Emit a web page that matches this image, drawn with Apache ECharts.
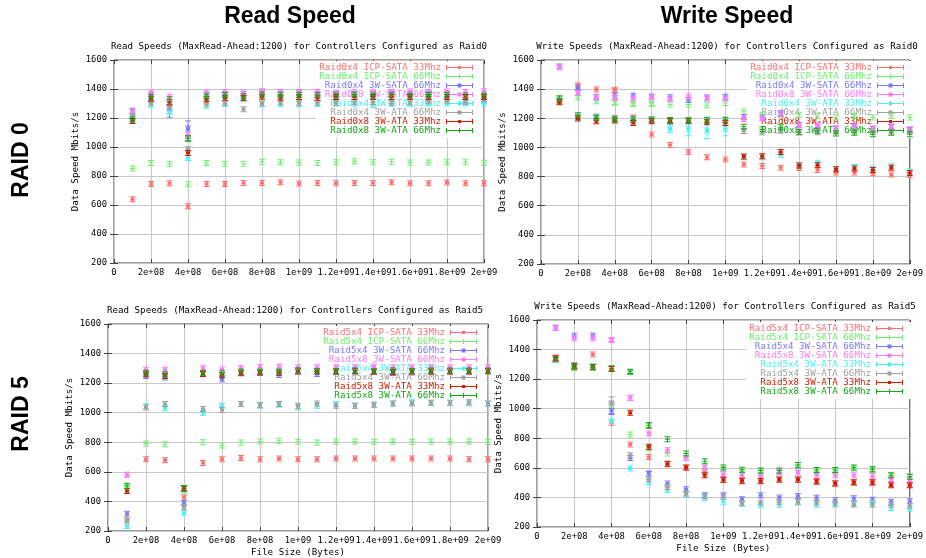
<!DOCTYPE html>
<html><head><meta charset="utf-8">
<script src="https://cdn.jsdelivr.net/npm/echarts@6/dist/echarts.min.js"></script>
<style>html,body{margin:0;padding:0;background:#fff}#c{width:926px;height:558px}</style>
</head><body><div id="c"></div><script>
// ---------- data ----------
const fileSizes = [1e8, 2e8, 3e8, 4e8, 5e8, 6e8, 7e8, 8e8, 9e8, 1e9, 1.1e9, 1.2e9, 1.3e9, 1.4e9, 1.5e9, 1.6e9, 1.7e9, 1.8e9, 1.9e9, 2e9];

const names0 = ['Raid0x4 ICP-SATA 33Mhz', 'Raid0x4 ICP-SATA 66Mhz', 'Raid0x4 3W-SATA 66Mhz', 'Raid0x8 3W-SATA 66Mhz',
                'Raid0x4 3W-ATA 33Mhz', 'Raid0x4 3W-ATA 66Mhz', 'Raid0x8 3W-ATA 33Mhz', 'Raid0x8 3W-ATA 66Mhz'];
const names5 = ['Raid5x4 ICP-SATA 33Mhz', 'Raid5x4 ICP-SATA 66Mhz', 'Raid5x4 3W-SATA 66Mhz', 'Raid5x8 3W-SATA 66Mhz',
                'Raid5x4 3W-ATA 33Mhz', 'Raid5x4 3W-ATA 66Mhz', 'Raid5x8 3W-ATA 33Mhz', 'Raid5x8 3W-ATA 66Mhz'];

const titles = [
  'Read Speeds (MaxRead-Ahead:1200) for Controllers Configured as Raid0',
  'Write Speeds (MaxRead-Ahead:1200) for Controllers Configured as Raid0',
  'Read Speeds (MaxRead-Ahead:1200) for Controllers Configured as Raid5',
  'Write Speeds (MaxRead-Ahead:1200) for Controllers Configured as Raid5'
];
const yAxisName = 'Data Speed Mbits/s';
const xAxisName = 'File Size (Bytes)';

// Read, RAID 0
const read0Icp33  = [640, 745, 750, 592, 745, 745, 752, 752, 757, 748, 752, 750, 752, 752, 757, 750, 750, 755, 750, 750];
const read0Icp66  = [852, 889, 884, 743, 889, 884, 884, 898, 895, 893, 889, 895, 902, 895, 898, 893, 893, 895, 895, 891];
const read0Sata4  = [1250, 1362, 1268, 1128, 1362, 1368, 1365, 1370, 1368, 1370, 1368, 1365, 1368, 1365, 1368, 1368, 1365, 1368, 1325, 1320];
const read0Sata8  = [1240, 1376, 1346, 1080, 1376, 1380, 1376, 1385, 1380, 1380, 1380, 1375, 1378, 1378, 1380, 1382, 1380, 1382, 1380, 1385];
const read0Ata33  = [1200, 1292, 1245, 925, 1285, 1297, 1330, 1295, 1295, 1295, 1295, 1300, 1298, 1290, 1298, 1298, 1300, 1300, 1300, 1300];
const read0Ata66  = [1215, 1305, 1272, 985, 1300, 1305, 1260, 1300, 1308, 1305, 1305, 1305, 1310, 1310, 1305, 1308, 1315, 1320, 1310, 1330];
const read0x8Ata33 = [1180, 1332, 1308, 958, 1330, 1340, 1338, 1346, 1340, 1345, 1340, 1345, 1345, 1345, 1345, 1345, 1345, 1345, 1345, 1345];
const read0x8Ata66 = [1190, 1346, 1330, 1060, 1350, 1358, 1350, 1362, 1360, 1358, 1358, 1355, 1360, 1355, 1358, 1355, 1358, 1358, 1355, 1355];

// Write, RAID 0
const write0Icp33  = [1315, 1425, 1397, 1395, 1205, 1089, 1016, 968, 933, 917, 883, 872, 861, 858, 845, 828, 828, 822, 815, 810];
const write0Icp66  = [1340, 1344, 1317, 1310, 1299, 1299, 1294, 1294, 1290, 1305, 1245, 1225, 1220, 1225, 1215, 1205, 1215, 1205, 1215, 1205];
const write0Sata4  = [1555, 1405, 1344, 1355, 1355, 1350, 1344, 1326, 1342, 1347, 1208, 1205, 1235, 1155, 1150, 1130, 1145, 1125, 1140, 1120];
const write0Sata8  = [1550, 1374, 1344, 1340, 1335, 1345, 1330, 1349, 1335, 1335, 1195, 1200, 1230, 1150, 1150, 1130, 1140, 1130, 1145, 1125];
const write0Ata33  = [1330, 1205, 1200, 1190, 1185, 1185, 1130, 1128, 1116, 1128, 935, 933, 950, 880, 895, 850, 865, 855, 870, 835];
const write0Ata66  = [1320, 1210, 1212, 1203, 1200, 1190, 1185, 1185, 1185, 1185, 1113, 1105, 1115, 1105, 1105, 1110, 1110, 1110, 1110, 1110];
const write0x8Ata33 = [1310, 1198, 1180, 1185, 1168, 1180, 1180, 1180, 1172, 1168, 938, 940, 968, 876, 878, 850, 855, 845, 860, 825];
const write0x8Ata66 = [1335, 1220, 1203, 1194, 1191, 1191, 1189, 1187, 1190, 1190, 1142, 1125, 1138, 1105, 1115, 1095, 1100, 1090, 1100, 1090];

// Read, RAID 5
const read5Icp33  = [266, 685, 678, 425, 660, 685, 694, 685, 690, 685, 685, 690, 690, 690, 690, 690, 690, 690, 685, 685];
const read5Icp66  = [500, 792, 786, 468, 801, 779, 799, 806, 810, 804, 799, 806, 806, 804, 806, 804, 806, 806, 806, 804];
const read5Sata4  = [316, 1249, 1238, 390, 1262, 1226, 1270, 1275, 1255, 1278, 1262, 1275, 1278, 1275, 1268, 1272, 1278, 1278, 1278, 1282];
const read5Sata8  = [580, 1290, 1290, 485, 1300, 1293, 1302, 1309, 1309, 1308, 1308, 1308, 1308, 1312, 1308, 1308, 1308, 1308, 1308, 1308];
const read5Ata33  = [233, 1043, 1030, 323, 998, 1047, 1059, 1047, 1054, 1036, 1047, 1059, 1047, 1054, 1063, 1070, 1068, 1068, 1063, 1063];
const read5Ata66  = [282, 1036, 1059, 361, 1025, 1018, 1059, 1052, 1059, 1047, 1063, 1047, 1047, 1054, 1063, 1063, 1068, 1068, 1070, 1063];
const read5x8Ata33 = [470, 1260, 1249, 486, 1262, 1253, 1267, 1271, 1271, 1278, 1278, 1278, 1280, 1278, 1275, 1278, 1278, 1278, 1278, 1280];
const read5x8Ata66 = [506, 1271, 1260, 490, 1271, 1267, 1278, 1278, 1278, 1287, 1280, 1282, 1285, 1280, 1285, 1282, 1285, 1285, 1285, 1285];

// Write, RAID 5
const write5Icp33  = [1340, 1285, 1367, 905, 758, 674, 625, 600, 577, 520, 510, 510, 520, 520, 505, 495, 500, 500, 490, 485];
const write5Icp66  = [1335, 1280, 1282, 1010, 826, 735, 697, 681, 600, 590, 575, 570, 570, 600, 575, 575, 595, 585, 545, 540];
const write5Sata4  = [1548, 1494, 1494, 985, 667, 561, 494, 455, 415, 415, 388, 415, 399, 410, 397, 381, 395, 385, 370, 374];
const write5Sata8  = [1548, 1476, 1476, 1465, 1075, 832, 719, 667, 600, 557, 550, 546, 570, 568, 555, 550, 550, 543, 523, 516];
const write5Ata33  = [1335, 1295, 1285, 918, 595, 505, 449, 419, 397, 370, 358, 347, 351, 365, 350, 350, 355, 360, 329, 324];
const write5Ata66  = [1335, 1285, 1284, 1035, 686, 523, 471, 426, 408, 404, 363, 365, 370, 370, 365, 360, 353, 350, 352, 343];
const write5x8Ata33 = [1345, 1291, 1282, 1268, 972, 742, 627, 602, 550, 519, 512, 512, 521, 521, 509, 494, 503, 503, 482, 482];
const write5x8Ata66 = [1334, 1279, 1279, 1273, 1250, 889, 794, 697, 645, 602, 588, 582, 582, 620, 586, 586, 602, 591, 550, 540];

// visible error bars: [series number, file size, low, high]
const read0Err  = [[2, 3e8, 1205, 1285], [2, 4e8, 1080, 1180], [7, 4e8, 1040, 1075], [4, 3e8, 1230, 1260]];
const write0Err = [[2, 2e8, 1395, 1435], [0, 4e8, 1380, 1405], [1, 4e8, 1290, 1325], [4, 7e8, 1100, 1160],
                   [4, 8e8, 1080, 1170], [4, 9e8, 1060, 1165], [4, 1e9, 1080, 1170], [1, 5e8, 1285, 1310], [1, 6e8, 1285, 1310]];
const read5Err  = [[3, 1e8, 565, 595]];
const write5Err = [[5, 4e8, 1030, 1080], [2, 4e8, 960, 1045], [3, 5e8, 1055, 1090], [7, 5e8, 1238, 1262],
                   [7, 6e8, 868, 905], [2, 6e8, 540, 575], [3, 4e8, 1455, 1475], [6, 6e8, 720, 750]];

// ---------- styling / layout ----------
const colors = ['#ff7070', '#6cf06c', '#7a7aff', '#ff7aff', '#4cf0f0', '#a0a0a0', '#cc1e00', '#14a814'];
const FONT = '"DejaVu Sans Mono", "Liberation Mono", monospace';
const pointSym = 'path://M0,0h6v1h-6zM0,5h6v1h-6zM2.5,0h1v6h-1zM1,1.5h4v3h-4z';
const plusSym  = 'path://M0,0h6v1h-6zM0,5h6v1h-6zM2.5,0h1v6h-1zM0.5,2.5h5v1h-5z';
const symbols = [pointSym, plusSym, pointSym, pointSym, pointSym, pointSym, pointSym, plusSym];
const legBase = 'path://M0,0h1v5h-1zM0,2h27v1h-27zM26,0h1v5h-1z';
const legIcons = [
  legBase + 'M12,1h3v3h-3z', legBase + 'M13,0h1v5h-1z', legBase + 'M11.5,0.5h4v4h-4z', legBase + 'M11.5,0.5h4v4h-4z',
  legBase + 'M12,0.5h3v4h-3z', legBase + 'M11.5,0.5h4v4h-4z', legBase + 'M12,1h3v3h-3z', legBase + 'M13,0h1v5h-1z'
];

const panels = [
  { title: titles[0], names: names0, err: read0Err,
    series: [read0Icp33, read0Icp66, read0Sata4, read0Sata8, read0Ata33, read0Ata66, read0x8Ata33, read0x8Ata66],
    grid: [114, 60, 442, 295], tx: 299, ty: 42, leg: [443, 61], xName: false },
  { title: titles[1], names: names0, err: write0Err,
    series: [write0Icp33, write0Icp66, write0Sata4, write0Sata8, write0Ata33, write0Ata66, write0x8Ata33, write0x8Ata66],
    grid: [541, 60, 11, 294], tx: 727, ty: 42, leg: [12, 61], xName: false },
  { title: titles[2], names: names5, err: read5Err,
    series: [read5Icp33, read5Icp66, read5Sata4, read5Sata8, read5Ata33, read5Ata66, read5x8Ata33, read5x8Ata66],
    grid: [108, 324, 438, 25], tx: 295, ty: 306, leg: [439, 326], xName: true },
  { title: titles[3], names: names5, err: write5Err,
    series: [write5Icp33, write5Icp66, write5Sata4, write5Sata8, write5Ata33, write5Ata66, write5x8Ata33, write5x8Ata66],
    grid: [537, 320, 12, 31], tx: 725, ty: 302, leg: [13, 322], xName: true }
];

function fmtX(v) {
  if (v === 0) return '0';
  const parts = v.toExponential().split('e');
  const exp = parts[1];
  return parts[0] + 'e' + exp[0] + exp.slice(1).padStart(2, '0');
}
function fmtY(v) { return String(v); }

function renderErr(params, api) {
  const x = api.value(0), lo = api.value(1), hi = api.value(2), k = api.value(3);
  const a = api.coord([x, hi]), b = api.coord([x, lo]);
  const st = { stroke: colors[k], lineWidth: 1 };
  return { type: 'group', children: [
    { type: 'line', shape: { x1: a[0], y1: a[1], x2: b[0], y2: b[1] }, style: st },
    { type: 'line', shape: { x1: a[0] - 3, y1: a[1], x2: a[0] + 3, y2: a[1] }, style: st },
    { type: 'line', shape: { x1: b[0] - 3, y1: b[1], x2: b[0] + 3, y2: b[1] }, style: st }
  ]};
}

const option = {
  animation: false, backgroundColor: '#fff',
  title: [], grid: [], xAxis: [], yAxis: [], legend: [], series: [],
  graphic: [
    { type: 'text', x: 290, y: 17, style: { text: 'Read Speed', font: 'bold 23px "Liberation Sans", Arial, sans-serif', fill: '#000', textAlign: 'center', textVerticalAlign: 'middle' } },
    { type: 'text', x: 727, y: 17, style: { text: 'Write Speed', font: 'bold 23px "Liberation Sans", Arial, sans-serif', fill: '#000', textAlign: 'center', textVerticalAlign: 'middle' } },
    { type: 'text', x: 22, y: 160, rotation: Math.PI / 2, style: { text: 'RAID 0', font: 'bold 23px "Liberation Sans", Arial, sans-serif', fill: '#000', textAlign: 'center', textVerticalAlign: 'middle' } },
    { type: 'text', x: 22, y: 414, rotation: Math.PI / 2, style: { text: 'RAID 5', font: 'bold 23px "Liberation Sans", Arial, sans-serif', fill: '#000', textAlign: 'center', textVerticalAlign: 'middle' } }
  ]
};

const tickStyle = { inside: true, length: 4, lineStyle: { color: '#404040' } };
const nameStyle = { fontFamily: FONT, fontSize: 9.2, color: '#000' };

panels.forEach((p, i) => {
  option.grid.push({ left: p.grid[0], top: p.grid[1], right: p.grid[2], bottom: p.grid[3], show: true, borderColor: '#404040', borderWidth: 1 });
  option.title.push({ text: p.title, left: p.tx, top: p.ty, textAlign: 'center', padding: 0,
    textStyle: { fontFamily: FONT, fontSize: 9.2, fontWeight: 'normal', color: '#000' } });
  const xi = option.xAxis.length, yi = option.yAxis.length;
  option.xAxis.push({ gridIndex: i, type: 'value', min: 0, max: 2e9, interval: 2e8,
    name: p.xName ? xAxisName : '', nameLocation: 'middle', nameGap: 17, nameTextStyle: nameStyle,
    axisLine: { show: false }, axisTick: tickStyle,
    axisLabel: { formatter: fmtX, fontFamily: FONT, fontSize: 8.8, color: '#000', margin: 5 },
    splitLine: { show: true, lineStyle: { color: '#c8c8c8', width: 1 } } });
  option.xAxis.push({ gridIndex: i, type: 'value', position: 'top', min: 0, max: 2e9, interval: 2e8,
    axisLine: { show: false }, axisTick: tickStyle, axisLabel: { show: false }, splitLine: { show: false } });
  option.yAxis.push({ gridIndex: i, type: 'value', min: 200, max: 1600, interval: 200,
    name: yAxisName, nameLocation: 'middle', nameGap: 34, nameTextStyle: nameStyle,
    axisLine: { show: false }, axisTick: tickStyle,
    axisLabel: { formatter: fmtY, fontFamily: FONT, fontSize: 8.8, color: '#000', margin: 7 },
    splitLine: { show: true, lineStyle: { color: '#c8c8c8', width: 1 } } });
  option.yAxis.push({ gridIndex: i, type: 'value', position: 'right', min: 200, max: 1600, interval: 200,
    axisLine: { show: false }, axisTick: tickStyle, axisLabel: { show: false }, splitLine: { show: false } });

  option.legend.push({ orient: 'vertical', right: p.leg[0], top: p.leg[1], align: 'right',
    itemWidth: 27, itemHeight: 5, itemGap: 0, padding: [2, 10, 3, 3], backgroundColor: '#fff',
    z: 1, selectedMode: false,
    textStyle: { fontFamily: FONT, fontSize: 9.2, lineHeight: 9 },
    data: p.names.map((n, k) => ({ name: n, icon: legIcons[k], textStyle: { color: colors[k] } })) });

  p.series.forEach((vals, k) => {
    option.series.push({ type: 'scatter', name: p.names[k], xAxisIndex: xi, yAxisIndex: yi,
      data: fileSizes.map((x, j) => [x, vals[j]]),
      symbol: symbols[k], symbolSize: 6, itemStyle: { color: colors[k], opacity: 1 }, z: 3,
      emphasis: { disabled: true } });
  });
  option.series.push({ type: 'custom', xAxisIndex: xi, yAxisIndex: yi, silent: true, z: 3,
    data: p.err.map(e => [e[1], e[2], e[3], e[0]]), encode: { x: 0, y: [1, 2] }, renderItem: renderErr });
});

const chart = echarts.init(document.getElementById('c'));
chart.setOption(option);
</script></body></html>
